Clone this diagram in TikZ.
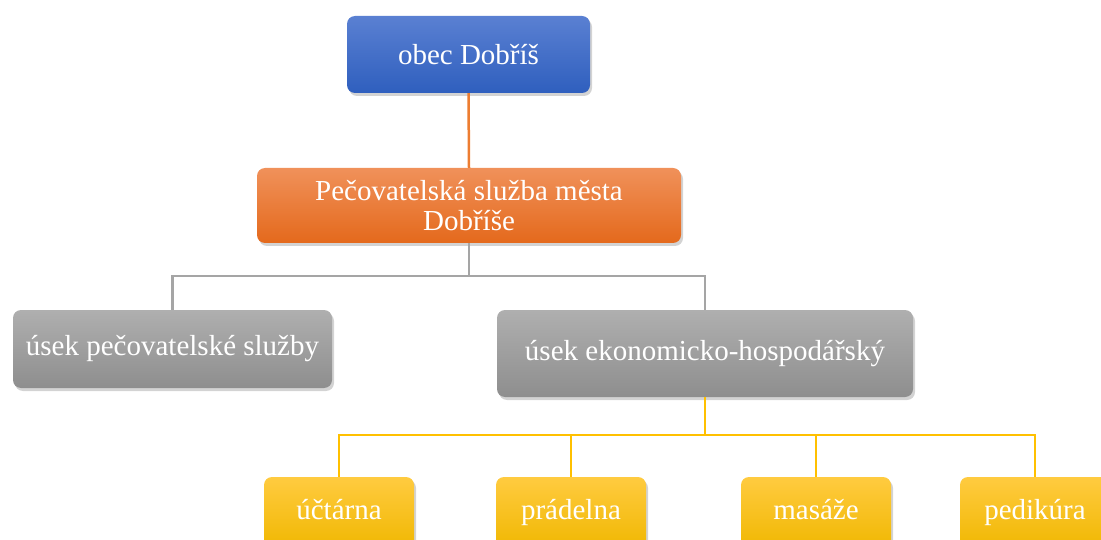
\documentclass[tikz,border=0pt]{standalone}
\usepackage{fontspec}
\setmainfont{Liberation Serif}
\usepackage{tikz}
\usetikzlibrary{shadows}
\definecolor{bluetop}{HTML}{5A80D2}
\definecolor{bluebot}{HTML}{2F5FBE}
\definecolor{orangetop}{HTML}{F0915A}
\definecolor{orangebot}{HTML}{E4691C}
\definecolor{graytop}{HTML}{AFAFAF}
\definecolor{graybot}{HTML}{8E8E8E}
\definecolor{yellowtop}{HTML}{FFCB40}
\definecolor{yellowbot}{HTML}{F0B700}
\definecolor{orangeline}{HTML}{ED7D31}
\definecolor{grayline}{HTML}{A5A5A5}
\definecolor{yellowline}{HTML}{FFC000}

\begin{document}
\begin{tikzpicture}[x=1pt, y=-1pt,
        box/.style={rectangle, rounded corners=8pt, text=white, align=center,
            inner sep=0pt, font=\fontsize{29}{30}\selectfont,
            drop shadow={opacity=0.35, shadow xshift=2pt, shadow yshift=-3pt}},
        bluebox/.style={box, top color=bluetop, bottom color=bluebot},
        orangebox/.style={box, top color=orangetop, bottom color=orangebot},
        graybox/.style={box, top color=graytop, bottom color=graybot},
        yellowbox/.style={box, top color=yellowtop, bottom color=yellowbot,
            minimum width=150pt, minimum height=73pt, text height=20pt, text depth=8pt},
        link/.style={line width=2.5pt}]

        \useasboundingbox (0,0) rectangle (1101,540);
        \clip (0,0) rectangle (1101,540);

        % Junctions
        \coordinate (graybus) at (469,276);
        \coordinate (yellowbus) at (705,435);

        % Boxes
        \node[bluebox, minimum width=243pt, minimum height=77pt] (obec) at (468.5,54.5) {obec Dobříš};
        \node[orangebox, minimum width=424pt, minimum height=75pt] (psl) at (469,205.5)
            {Pečovatelská služba města\\Dobříše};
        \node[graybox, minimum width=319pt, minimum height=78pt] (usekps) at (172.5,349)
            {úsek pečovatelské služby};
        \node[graybox, minimum width=416pt, minimum height=87pt] (useke) at (705,353.5)
            {úsek ekonomicko-hospodářský};
        \node[yellowbox] (uctarna) at (339,513.5) {účtárna};
        \node[yellowbox] (pradelna) at (571,513.5) {prádelna};
        \node[yellowbox] (masaze) at (816,513.5) {masáže};
        \node[yellowbox] (pedikura) at (1035,513.5) {pedikúra};

        % Lines
        \draw[link, orangeline] (obec.south) -- (psl.north);
        \draw[link, grayline] (psl.south) -- (graybus);
        \draw[link, grayline] (graybus) -| (usekps.north);
        \draw[link, grayline] (graybus) -| (useke.north);
        \draw[link, yellowline] (useke.south) -- (yellowbus);
        \draw[link, yellowline] (yellowbus) -| (uctarna.north);
        \draw[link, yellowline] (yellowbus) -| (pradelna.north);
        \draw[link, yellowline] (yellowbus) -| (masaze.north);
        \draw[link, yellowline] (yellowbus) -| (pedikura.north);

\end{tikzpicture}
\end{document}
